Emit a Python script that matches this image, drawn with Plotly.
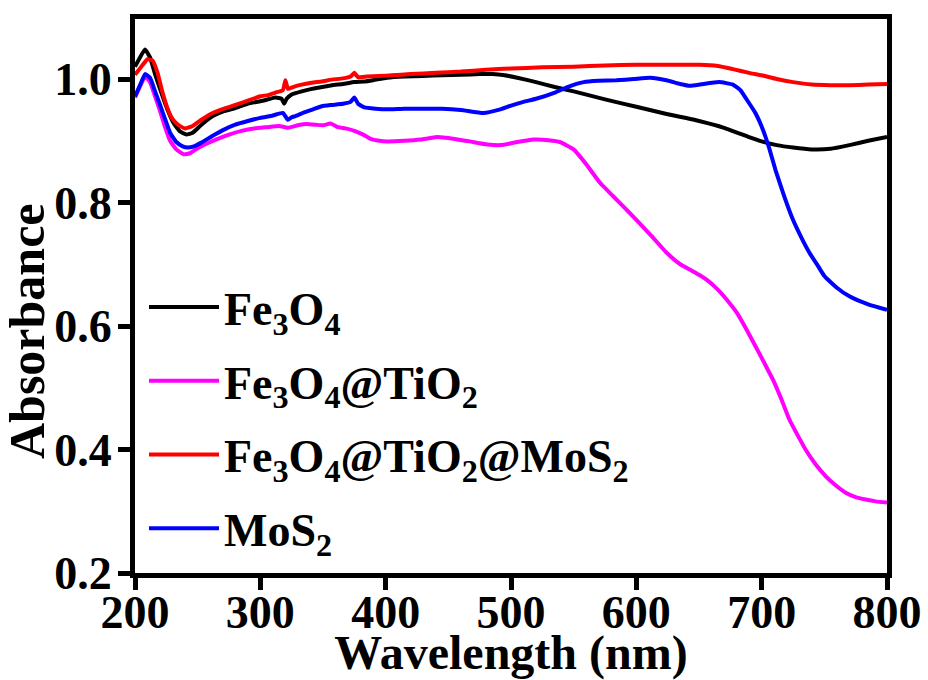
import plotly.graph_objects as go

# ---------------- data ----------------
wl_fe3o4 = [200, 204, 208, 212, 216, 221, 226, 231, 236, 241, 246, 253, 262, 271, 280,
            290, 300, 306, 312, 317, 319, 321, 325, 333, 341, 349, 357, 366, 375, 383,
            392, 401, 415, 430, 445, 460, 475, 485, 495, 505, 520, 535, 550, 575, 600,
            625, 650, 670, 690, 700, 712, 725, 740, 755, 770, 785, 800]
abs_fe3o4 = [1.020, 1.035, 1.048, 1.035, 1.008, 0.978, 0.950, 0.928, 0.915, 0.910, 0.913, 0.926, 0.940, 0.948, 0.953,
             0.960, 0.964, 0.967, 0.970, 0.968, 0.960, 0.968, 0.975, 0.980, 0.984, 0.987, 0.990, 0.992, 0.995, 0.996,
             0.999, 1.002, 1.004, 1.005, 1.006, 1.007, 1.008, 1.008, 1.006, 1.002, 0.995, 0.987, 0.980, 0.967, 0.955,
             0.943, 0.932, 0.921, 0.906, 0.899, 0.893, 0.889, 0.886, 0.887, 0.893, 0.900, 0.906]

wl_fe3o4_tio2 = [200, 204, 208, 212, 216, 220, 224, 228, 233, 239, 244, 250, 258, 266, 275,
                 285, 295, 305, 315, 322, 330, 337, 344, 350, 356, 362, 368, 375, 382, 388,
                 395, 401, 415, 428, 441, 455, 467, 481, 492, 505, 518, 530, 539, 550, 560,
                 571, 585, 600, 612, 624, 635, 643, 650, 656, 664, 672, 680, 688, 698, 709,
                 716, 722, 729, 735, 743, 751, 759, 767, 775, 783, 791, 800]
abs_fe3o4_tio2 = [0.970, 0.988, 1.004, 0.995, 0.972, 0.948, 0.922, 0.900, 0.886, 0.878, 0.880, 0.888, 0.896, 0.903, 0.910,
                  0.916, 0.920, 0.922, 0.924, 0.921, 0.925, 0.927, 0.926, 0.925, 0.928, 0.922, 0.920, 0.916, 0.910, 0.903,
                  0.900, 0.899, 0.900, 0.902, 0.906, 0.903, 0.899, 0.894, 0.893, 0.898, 0.902, 0.901, 0.898, 0.886, 0.862,
                  0.832, 0.803, 0.772, 0.746, 0.719, 0.700, 0.691, 0.683, 0.675, 0.661, 0.643, 0.622, 0.594, 0.556, 0.513,
                  0.480, 0.449, 0.422, 0.400, 0.376, 0.357, 0.342, 0.330, 0.323, 0.319, 0.316, 0.314]

wl_fe3o4_tio2_mos2 = [200, 205, 210, 214, 218, 222, 226, 230, 235, 240, 246, 253, 262, 271, 280,
                      290, 300, 306, 312, 318, 320, 322, 326, 333, 341, 349, 357, 366, 372, 375,
                      378, 385, 395, 405, 420, 440, 460, 480, 500, 525, 550, 575, 600, 625, 650,
                      665, 677, 690, 700, 712, 725, 740, 755, 770, 785, 800]
abs_fe3o4_tio2_mos2 = [1.007, 1.020, 1.032, 1.030, 1.010, 0.978, 0.952, 0.935, 0.925, 0.920, 0.924, 0.934, 0.945, 0.952, 0.958,
                       0.965, 0.972, 0.974, 0.978, 0.982, 0.998, 0.984, 0.987, 0.991, 0.994, 0.996, 0.999, 1.001, 1.004, 1.010,
                       1.003, 1.004, 1.005, 1.006, 1.008, 1.010, 1.012, 1.015, 1.017, 1.019, 1.020, 1.022, 1.023, 1.023, 1.023,
                       1.021, 1.016, 1.010, 1.006, 1.000, 0.995, 0.991, 0.990, 0.990, 0.991, 0.992]

wl_mos2 = [200, 204, 208, 212, 216, 220, 224, 228, 233, 238, 242, 247, 253, 262, 271,
           280, 290, 300, 310, 318, 322, 325, 328, 335, 342, 349, 357, 366, 372, 375,
           378, 383, 392, 401, 415, 430, 445, 460, 478, 490, 500, 510, 520, 535, 545,
           558, 570, 584, 598, 611, 624, 635, 643, 651, 666, 677, 683, 688, 695, 701,
           706, 711, 718, 725, 732, 738, 745, 750, 760, 770, 785, 800]
abs_mos2 = [0.972, 0.990, 1.008, 1.002, 0.980, 0.958, 0.935, 0.913, 0.898, 0.891, 0.889, 0.891, 0.897, 0.908, 0.918,
            0.926, 0.932, 0.937, 0.941, 0.945, 0.934, 0.938, 0.940, 0.946, 0.951, 0.956, 0.958, 0.960, 0.963, 0.970,
            0.960, 0.954, 0.952, 0.951, 0.952, 0.952, 0.952, 0.950, 0.945, 0.950, 0.957, 0.963, 0.968, 0.978, 0.987,
            0.995, 0.997, 0.998, 1.000, 1.002, 0.998, 0.992, 0.989, 0.991, 0.995, 0.991, 0.982, 0.967, 0.945, 0.918,
            0.888, 0.853, 0.810, 0.772, 0.742, 0.719, 0.697, 0.681, 0.662, 0.648, 0.635, 0.626]

series_names = ["Fe<sub>3</sub>O<sub>4</sub>",
                "Fe<sub>3</sub>O<sub>4</sub>@TiO<sub>2</sub>",
                "Fe<sub>3</sub>O<sub>4</sub>@TiO<sub>2</sub>@MoS<sub>2</sub>",
                "MoS<sub>2</sub>"]
series_colors = ["#000000", "#FF00FF", "#FF0000", "#0000FF"]

x_ticks = [200, 300, 400, 500, 600, 700, 800]
y_ticks = [0.2, 0.4, 0.6, 0.8, 1.0]

# ---------------- figure ----------------
FONT = "Liberation Serif, Times New Roman, serif"
series = [(wl_fe3o4, abs_fe3o4), (wl_fe3o4_tio2, abs_fe3o4_tio2),
          (wl_fe3o4_tio2_mos2, abs_fe3o4_tio2_mos2), (wl_mos2, abs_mos2)]

L, R, T, B = 135, 41, 19, 107
PW, PH = 928 - L - R, 680 - T - B

fig = go.Figure()
for i, ((xs, ys), name, color) in enumerate(zip(series, series_names, series_colors)):
    fig.add_trace(go.Scatter(x=xs, y=ys, mode="lines", name=name,
                             legendgroup=f"g{i}",
                             line=dict(color=color, width=4, shape="spline", smoothing=0.4)))

axis_common = dict(showgrid=False, zeroline=False, showline=True, linewidth=5,
                   linecolor="black", mirror=True, ticks="outside", ticklen=12,
                   tickwidth=5, tickcolor="black", automargin=False,
                   tickfont=dict(family=FONT, size=46, color="black", weight="bold"))

fig.update_layout(
    width=928, height=680,
    margin=dict(l=L, r=R, t=T, b=B, autoexpand=False),
    paper_bgcolor="white", plot_bgcolor="white",
    xaxis=dict(range=[200, 800], tickvals=x_ticks, ticktext=[str(v) for v in x_ticks],
               ticklabelstandoff=-17,
               title=dict(text="Wavelength (nm)", standoff=8,
                          font=dict(family=FONT, size=48, color="black", weight="bold")),
               **axis_common),
    yaxis=dict(range=[0.2, 1.0972], tickvals=y_ticks, ticktext=[f"{v:.1f}" for v in y_ticks],
               ticklabelstandoff=-3,
               **axis_common),
    showlegend=True,
    legend=dict(x=9 / PW, y=0.546, xanchor="left", yanchor="top",
                bgcolor="rgba(0,0,0,0)", itemwidth=70, tracegroupgap=11,
                font=dict(family=FONT, size=46, color="black", weight="bold")),
    annotations=[dict(text="Absorbance", textangle=-90, xref="paper", yref="paper",
                      x=(27 - L) / PW, y=(680 - B - 331) / PH, xanchor="center", yanchor="middle",
                      showarrow=False,
                      font=dict(family=FONT, size=50, color="black", weight="bold"))],
)

fig.write_html("out.html")
